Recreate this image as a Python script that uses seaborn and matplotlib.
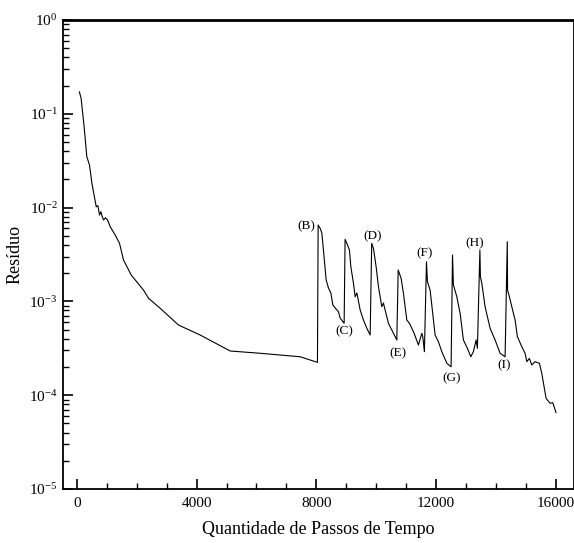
import matplotlib
matplotlib.use("Agg")
import matplotlib.pyplot as plt
import matplotlib.ticker as mticker
import numpy as np
import pandas as pd
import seaborn as sns

# residual history
steps = [80, 140, 240, 330, 420, 500, 645, 700, 755, 800, 845, 890, 955, 1022,
         1112, 1279, 1423, 1557, 1814, 2225, 2392, 2783, 3394, 4119, 5121, 6123,
         7459, 8037,
         8060, 8127, 8184, 8237, 8328, 8405, 8485, 8552, 8628, 8739, 8795, 8885, 8929,
         8960, 9019, 9106, 9153, 9240, 9297, 9353, 9387, 9464, 9574, 9687, 9798,
         9850, 9908, 9998, 10075, 10188, 10242, 10298, 10409, 10576, 10689,
         10735, 10833, 10910, 11023, 11110, 11190, 11267, 11411, 11524, 11558, 11611,
         11680, 11712, 11802, 11969, 12079, 12193, 12360, 12503,
         12550, 12580, 12694, 12804, 12914, 13048, 13161, 13248, 13338, 13382,
         13465, 13482, 13529, 13639, 13806, 13973, 14140, 14307,
         14380, 14390, 14451, 14531, 14641, 14718, 14865, 14975, 15032, 15119,
         15199, 15309, 15453, 15533, 15610, 15677, 15810, 15900, 16010]
residuo = [0.172, 0.146, 0.0728, 0.0349, 0.0284, 0.0182, 0.0102, 0.0105, 0.00834,
           0.00904, 0.0080, 0.00738, 0.0078, 0.00738,
           0.00626, 0.0051, 0.00416, 0.00276, 0.00191, 0.00132, 0.00108, 0.000844,
           0.00056, 0.000438, 0.000296, 0.00028, 0.000257, 0.000224,
           0.00652, 0.00601, 0.00536, 0.00353, 0.00169, 0.00139, 0.00123, 0.000916,
           0.000851, 0.000777, 0.000665, 0.000608, 0.000585,
           0.00459, 0.00416, 0.00353, 0.00234, 0.00156, 0.00112, 0.00123, 0.00109,
           0.00081, 0.000634, 0.000517, 0.000438,
           0.00416, 0.00368, 0.00234, 0.00144, 0.000877, 0.000962, 0.00081, 0.000584,
           0.000457, 0.000388,
           0.00216, 0.00176, 0.00122, 0.000634, 0.000584, 0.000517, 0.000457, 0.000343,
           0.000457, 0.000417, 0.000291,
           0.00265, 0.00162, 0.00132, 0.000438, 0.000372, 0.000291, 0.000219, 0.000201,
           0.00312, 0.0015, 0.00112, 0.000747, 0.000388, 0.000316, 0.000257, 0.000291,
           0.000388, 0.000316,
           0.00353, 0.00183, 0.00156, 0.000877, 0.000517, 0.000388, 0.00028, 0.000257,
           0.00433, 0.00132, 0.00112, 0.000877, 0.000634, 0.000421, 0.000329, 0.00028,
           0.000228, 0.000247, 0.00021, 0.000228, 0.000219, 0.000171, 0.000123,
           0.0000927, 0.000082, 0.0000832, 0.0000651]

labels = ["(B)", "(C)", "(D)", "(E)", "(F)", "(G)", "(H)", "(I)"]
label_x = [7680, 8929, 9888, 10723, 11601, 12527, 13305, 14284]
label_y = [0.00637, 0.000475, 0.00498, 0.000282, 0.00326, 0.000151, 0.00416, 0.000206]

df = pd.DataFrame({"passos": steps, "residuo": residuo})

sns.set_style("ticks")
plt.rcParams["font.family"] = ["Liberation Serif", "DejaVu Serif"]
plt.rcParams["mathtext.fontset"] = "custom"
plt.rcParams["mathtext.rm"] = "Liberation Serif"
plt.rcParams["axes.unicode_minus"] = False
for k in ["text.color", "axes.labelcolor", "xtick.color", "ytick.color", "axes.edgecolor"]:
    plt.rcParams[k] = "black"

fig = plt.figure(figsize=(5.74, 5.43), dpi=100)
ax = fig.add_axes([0.109, 0.0994, 0.8905, 0.8638])

sns.lineplot(data=df, x="passos", y="residuo", sort=False, estimator=None,
             color="black", linewidth=0.8, ax=ax)

for t, xx, yy in zip(labels, label_x, label_y):
    ax.text(xx, yy, t, fontsize=9.5, ha="center", va="center")

ax.set_yscale("log")
ax.set_ylim(1e-5, 1)
ax.set_xlim(-480, 16600)
ax.xaxis.set_major_locator(mticker.MultipleLocator(4000))
ax.xaxis.set_minor_locator(mticker.MultipleLocator(1000))
ax.yaxis.set_major_locator(mticker.LogLocator(base=10, numticks=10))
ax.yaxis.set_minor_locator(mticker.LogLocator(base=10, subs=np.arange(2, 10), numticks=10))
ax.yaxis.set_minor_formatter(mticker.NullFormatter())

ax.tick_params(which="both", direction="in", top=False, right=False, labelsize=11)
ax.tick_params(which="major", length=7, width=1.2)
ax.tick_params(which="minor", length=4, width=1)
ax.tick_params(axis="x", which="major", pad=6)

for s in ax.spines.values():
    s.set_linewidth(1.3)
ax.spines["top"].set_linewidth(2)

ax.set_xlabel("Quantidade de Passos de Tempo", fontsize=13, labelpad=8)
ax.set_ylabel("Resíduo", fontsize=13, labelpad=4)

fig.savefig("out.png", dpi=100)
